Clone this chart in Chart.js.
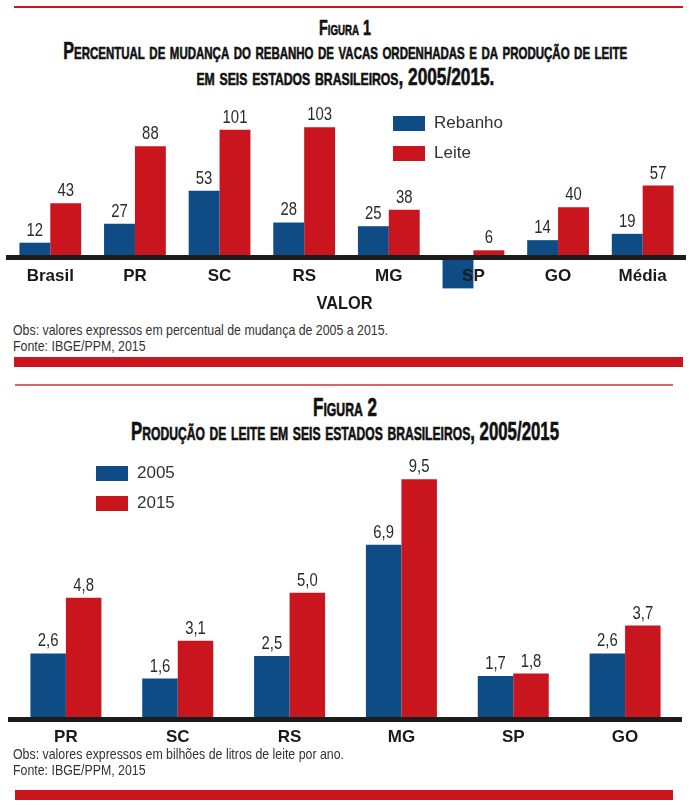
<!DOCTYPE html>
<html lang="pt-BR">
<head>
<meta charset="utf-8">
<title>Rebanho e produção de leite</title>
<script src="https://cdn.jsdelivr.net/npm/chart.js@4.4.1/dist/chart.umd.min.js"></script>
<style>
  html, body { margin: 0; padding: 0; background: #fff; }
  body { position: relative; width: 690px; height: 805px; overflow: hidden; color: #333; }
  .rule { position: absolute; background: #c8151e; }
  .titulo {
    position: absolute; left: -500px; width: 1690px; text-align: center;
    font-family: "Liberation Sans", Arial, sans-serif;
    font-weight: bold; font-variant: small-caps; color: #111;
    line-height: 26px; white-space: nowrap;
  }
  .titulo span { display: inline-block; transform-origin: center; -webkit-text-stroke: 0.6px #111; }
  .caixa { position: absolute; left: 0; width: 690px; }
  .legenda { position: absolute; font-family: "Liberation Sans", Arial, sans-serif; font-size: 17px; color: #333; }
  .legenda div { height: 30px; display: flex; align-items: center; }
  .legenda span.cor { display: inline-block; width: 32px; height: 15px; margin-right: 9px; }
  .nota {
    position: absolute; left: 13px; white-space: nowrap;
    font-family: "Liberation Sans", Arial, sans-serif;
    font-size: 14.5px; line-height: 16px; color: #333;
  }
  .nota span { display: inline-block; transform-origin: left; }
  .eixo {
    position: absolute; left: 0; width: 690px; text-align: center;
    font-family: "Liberation Sans", Arial, sans-serif;
    font-weight: bold; font-size: 19px; line-height: 20px; color: #1a1a1a;
  }
  .eixo span { display: inline-block; transform: scaleX(0.86); }
</style>
</head>
<body>

<div class="rule" style="left:14px; width:669px; top:6px; height:2px;"></div>
<div class="titulo" style="top:15px; font-size:22px;"><span data-w="52">Figura 1</span></div>
<div class="titulo" style="top:38px; font-size:24px;"><span data-w="564">Percentual de mudança do rebanho de vacas ordenhadas e da produção de leite</span></div>
<div class="titulo" style="top:64px; font-size:24px;"><span data-w="298">em seis estados brasileiros, 2005/2015.</span></div>

<div class="caixa" style="top:90px; height:215px;"><canvas id="grafico1"></canvas></div>
<div id="legenda1" class="legenda" style="left:393px; top:108px;"></div>

<div class="eixo" style="top:293px;"><span>VALOR</span></div>
<div class="nota" style="top:322px;"><span id="obs1">Obs: valores expressos em percentual de mudança de 2005 a 2015.</span><br><span>Fonte: IBGE/PPM, 2015</span></div>
<div class="rule" style="left:14px; width:669px; top:357px; height:10px;"></div>

<div class="rule" style="left:15px; width:658px; top:384px; height:2px; background:#d9646b;"></div>
<div class="titulo" style="top:394px; font-size:25px;"><span data-w="64">Figura 2</span></div>
<div class="titulo" style="top:418px; font-size:25px;"><span data-w="428">Produção de leite em seis estados brasileiros, 2005/2015</span></div>

<div class="caixa" style="top:440px; height:310px;"><canvas id="grafico2"></canvas></div>
<div id="legenda2" class="legenda" style="left:96px; top:458px;"></div>

<div class="nota" style="top:746px;"><span>Obs: valores expressos em bilhões de litros de leite por ano.</span><br><span>Fonte: IBGE/PPM, 2015</span></div>
<div class="rule" style="left:15px; width:658px; top:790px; height:10px;"></div>

<script>
// Figura 1 - percentual de mudança 2005 a 2015
const estados1 = ['Brasil', 'PR', 'SC', 'RS', 'MG', 'SP', 'GO', 'Média'];
const rebanho = [12, 27, 53, 28, 25, -24, 14, 19];
const leite = [43, 88, 101, 103, 38, 6, 40, 57];

// Figura 2 - bilhões de litros por ano
const estados2 = ['PR', 'SC', 'RS', 'MG', 'SP', 'GO'];
const producao2005 = [2.6, 1.6, 2.5, 6.9, 1.7, 2.6];
const producao2015 = [4.8, 3.1, 5.0, 9.5, 1.8, 3.7];

const AZUL = '#0f4c86';
const VERMELHO = '#c8151e';

// fonte condensada "na mão": estica o texto no eixo x
document.querySelectorAll('.titulo span').forEach(el => {
    const w = el.getBoundingClientRect().width;
    el.style.transform = 'scaleX(' + (Number(el.dataset.w) / w) + ')';
});
const escalaNota = 375 / document.getElementById('obs1').getBoundingClientRect().width;
document.querySelectorAll('.nota span').forEach(el => {
    el.style.transform = 'scaleX(' + escalaNota + ')';
});

// escreve o valor em cima de cada barra (negativos ficam sem rótulo)
const criaRotulos = (formata) => ({
    id: 'rotulos',
    afterDatasetsDraw(chart) {
        const ctx = chart.ctx;
        ctx.save();
        ctx.font = '17.5px "Liberation Sans", Arial, sans-serif';
        ctx.fillStyle = '#2b2b2b';
        ctx.textAlign = 'center';
        ctx.textBaseline = 'bottom';
        chart.data.datasets.forEach((ds, i) => {
            chart.getDatasetMeta(i).data.forEach((barra, j) => {
                const v = ds.data[j];
                if (v < 0) return;
                ctx.save();
                ctx.translate(barra.x, barra.y - 3);
                ctx.scale(0.85, 1);
                ctx.fillText(formata(v), 0, 0);
                ctx.restore();
            });
        });
        ctx.restore();
    }
});

const montaLegenda = (chart, id) => {
    const el = document.getElementById(id);
    chart.data.datasets.forEach(ds => {
        const linha = document.createElement('div');
        const cor = document.createElement('span');
        cor.className = 'cor';
        cor.style.background = ds.backgroundColor;
        linha.appendChild(cor);
        linha.appendChild(document.createTextNode(ds.label));
        el.appendChild(linha);
    });
};

const opcoes = (yMin, yMax, catPct, padding) => ({
    responsive: true,
    maintainAspectRatio: false,
    animation: false,
    layout: { padding: padding },
    plugins: { legend: { display: false }, tooltip: { enabled: false } },
    datasets: { bar: { categoryPercentage: catPct, barPercentage: 1.0, borderWidth: 0 } },
    scales: {
        x: {
            position: { y: 0 },
            grid: { display: false, drawTicks: false, tickLength: 0 },
            border: { display: true, color: '#1c1c1c', width: 5, z: 1 },
            ticks: {
                z: 1,
                color: '#1a1a1a',
                padding: 8,
                font: { family: '"Liberation Sans", Arial, sans-serif', weight: 'bold', size: 17 }
            }
        },
        y: { display: false, min: yMin, max: yMax }
    }
});

const grafico1 = new Chart(document.getElementById('grafico1'), {
    type: 'bar',
    data: {
        labels: estados1,
        datasets: [
            { label: 'Rebanho', data: rebanho, backgroundColor: AZUL },
            { label: 'Leite', data: leite, backgroundColor: VERMELHO }
        ]
    },
    options: opcoes(-30, 115, 0.73, { top: 22, bottom: 9, left: 8, right: 5 }),
    plugins: [criaRotulos(v => String(v))]
});

const grafico2 = new Chart(document.getElementById('grafico2'), {
    type: 'bar',
    data: {
        labels: estados2,
        datasets: [
            { label: '2005', data: producao2005, backgroundColor: AZUL },
            { label: '2015', data: producao2015, backgroundColor: VERMELHO }
        ]
    },
    options: opcoes(0, 10.5, 0.635, { top: 14, bottom: 31, left: 10, right: 9 }),
    plugins: [criaRotulos(v => v.toFixed(1).replace('.', ','))]
});

montaLegenda(grafico1, 'legenda1');
montaLegenda(grafico2, 'legenda2');
</script>
</body>
</html>
